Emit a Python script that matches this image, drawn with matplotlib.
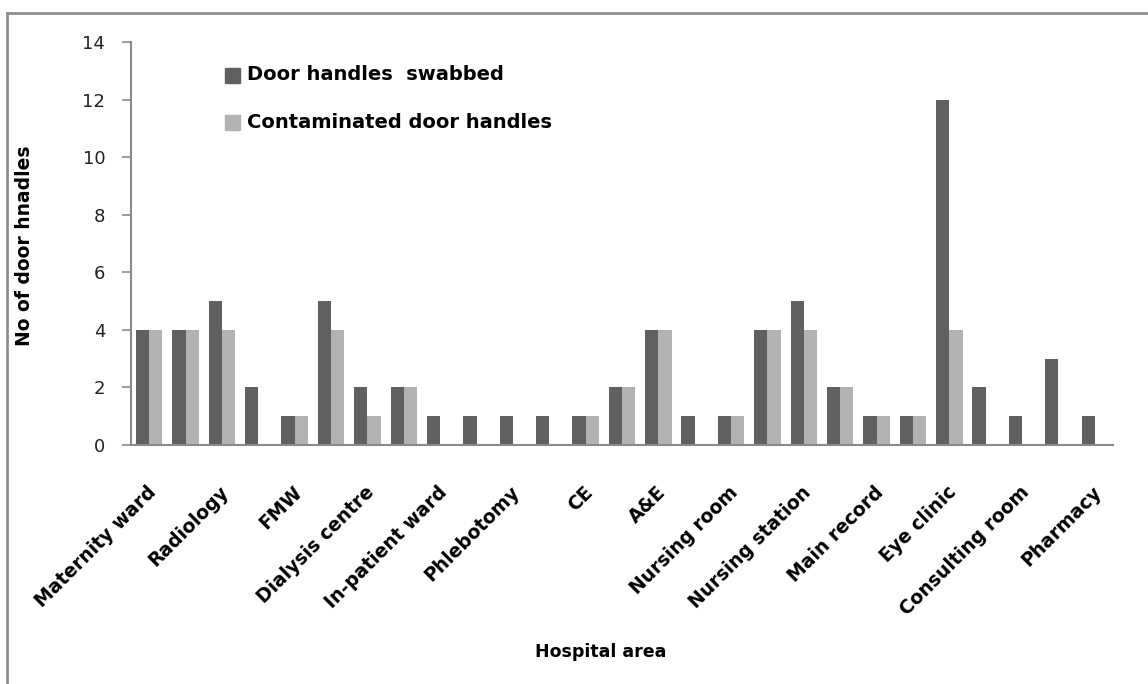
import matplotlib
matplotlib.use("Agg")
import matplotlib.pyplot as plt
from matplotlib.lines import Line2D
import numpy as np

# Door handles per hospital area (27 areas; every other one is labelled on the axis)
swabbed = [4, 4, 5, 2, 1, 5, 2, 2, 1, 1, 1, 1, 1, 2, 4, 1, 1, 4, 5, 2, 1, 1, 12, 2, 1, 3, 1]
contaminated = [4, 4, 4, 0, 1, 4, 1, 2, 0, 0, 0, 0, 1, 2, 4, 0, 1, 4, 4, 2, 1, 1, 4, 0, 0, 0, 0]
area_labels = ["Maternity ward", "Radiology", "FMW", "Dialysis centre", "In-patient ward",
               "Phlebotomy", "CE", "A&E", "Nursing room", "Nursing station",
               "Main record", "Eye clinic", "Consulting room", "Pharmacy"]
y_ticks = [0, 2, 4, 6, 8, 10, 12, 14]
series_names = ["Door handles  swabbed", "Contaminated door handles"]

DARK = "#606060"
LIGHT = "#b2b2b2"
AXIS = "#8a8a8a"

plt.rcParams["font.family"] = ["DejaVu Sans"]

W, H = 1148, 684
fig = plt.figure(figsize=(W / 100, H / 100), dpi=100)
fig.patch.set_facecolor("white")

ax = fig.add_axes([131 / W, 1 - 445 / H, (1113 - 131) / W, (445 - 42) / H])

n = len(swabbed)
x = np.arange(n)
bw = 0.365
ax.bar(x - bw / 2, swabbed, width=bw, color=DARK, linewidth=0)
ax.bar(x + bw / 2, contaminated, width=bw, color=LIGHT, linewidth=0)

ax.set_xlim(-0.5, n - 0.5)
ax.set_ylim(0, 14)
ax.set_yticks(y_ticks)
ax.set_yticklabels([str(v) for v in y_ticks], fontsize=13, color="#222222")
ax.tick_params(axis="y", direction="out", length=6.5, width=1.2, color=AXIS, pad=12)

ax.set_xticks([])
for sp in ["top", "right"]:
    ax.spines[sp].set_visible(False)
for sp in ["left", "bottom"]:
    ax.spines[sp].set_color(AXIS)
    ax.spines[sp].set_linewidth(1.5)

# Category labels on every other area, rotated 45 degrees
for i, lab in zip(x[::2], area_labels):
    ax.annotate(lab, xy=(i, 0), xycoords=("data", "axes fraction"),
                xytext=(3, -32), textcoords="offset points",
                rotation=45, rotation_mode="anchor", ha="right", va="center",
                fontsize=13.5, fontweight="bold", color="black",
                annotation_clip=False)

fig.text(25 / W, 1 - 246 / H, "No of door hnadles", rotation=90, ha="center",
         va="center", fontsize=13.5, fontweight="bold")
fig.text(601 / W, 1 - 652 / H, "Hospital area", ha="center", va="center",
         fontsize=12.5, fontweight="bold")

# Legend entries drawn as squares with labels
legend_y = [75, 122]
for yy, name, col in zip(legend_y, series_names, [DARK, LIGHT]):
    fig.patches.append(plt.Rectangle((225 / W, 1 - (yy + 7.5) / H), 15 / W, 15 / H,
                                     transform=fig.transFigure, color=col))
    fig.text(247 / W, 1 - yy / H, name, ha="left", va="center",
             fontsize=14, fontweight="bold")

# Outer chart frame
fig.add_artist(Line2D([7 / W, 7 / W], [0, 1 - 13 / H], transform=fig.transFigure,
                      color="#8f8f8f", linewidth=2))
fig.add_artist(Line2D([7 / W, 1], [1 - 13 / H, 1 - 13 / H], transform=fig.transFigure,
                      color="#8f8f8f", linewidth=2))

fig.savefig("out.png", dpi=100)
